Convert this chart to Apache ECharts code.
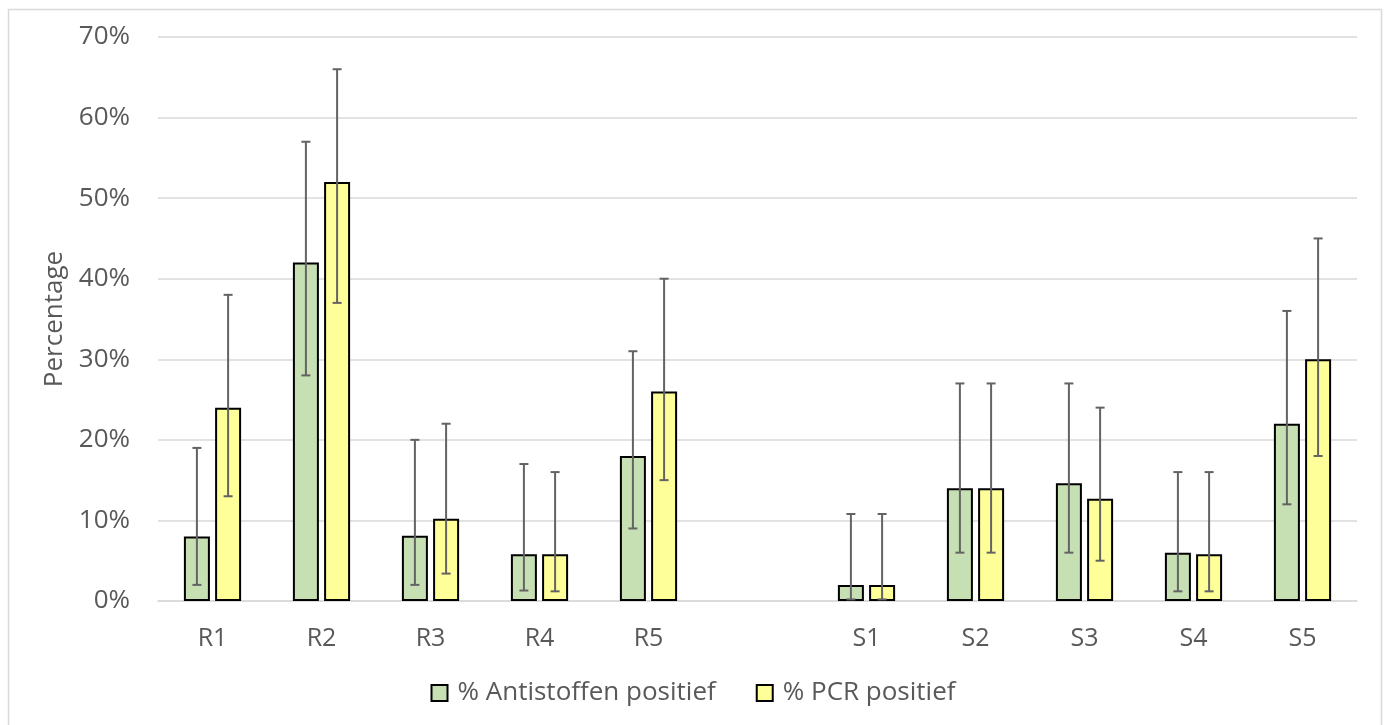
<!DOCTYPE html>
<html>
<head>
<meta charset="utf-8">
<script src="https://cdn.jsdelivr.net/npm/echarts@6/dist/echarts.min.js"></script>
<style>
html,body{margin:0;padding:0;background:#fff;}
#chart{width:1386px;height:725px;}
</style>
</head>
<body>
<div id="chart"></div>
<script>
var categories = ['R1','R2','R3','R4','R5','','S1','S2','S3','S4','S5'];
var antistoffen   = [8, 42, 8.1, 5.8, 18, null, 2, 14, 14.6, 6, 22];
var antistoffenLo = [2, 28, 2, 1.3, 9, null, 0.2, 6, 6, 1.2, 12];
var antistoffenHi = [19, 57, 20, 17, 31, null, 10.8, 27, 27, 16, 36];
var pcr   = [24, 52, 10.2, 5.8, 26, null, 2, 14, 12.7, 5.8, 30];
var pcrLo = [13, 37, 3.4, 1.2, 15, null, 0.2, 6, 5, 1.2, 18];
var pcrHi = [38, 66, 22, 16, 40, null, 10.8, 27, 24, 16, 45];
var yTicks = [0, 10, 20, 30, 40, 50, 60, 70];

var BAR_W = 26, GAP = 0.2;
var half = (2 * BAR_W + BAR_W * GAP) / 2;
var off0 = -half + BAR_W / 2, off1 = half - BAR_W / 2;
var FONT = 'Open Sans';
var TXT = '#595959';

function errData(lo, hi) {
  var d = [];
  for (var i = 0; i < categories.length; i++) {
    if (lo[i] != null) d.push([i, lo[i], hi[i]]);
  }
  return d;
}
function errSeries(name, lo, hi, offset) {
  return {
    type: 'custom',
    name: name + ' err',
    z: 10,
    silent: true,
    encode: {x: 0, y: [1, 2]},
    data: errData(lo, hi),
    renderItem: function (params, api) {
      var i = api.value(0);
      var p1 = api.coord([i, api.value(1)]);
      var p2 = api.coord([i, api.value(2)]);
      var x = p1[0] + offset;
      var st = {stroke: '#636363', lineWidth: 2};
      var c = 4.5;
      return {
        type: 'group',
        children: [
          {type: 'line', shape: {x1: x, y1: p1[1], x2: x, y2: p2[1]}, style: st},
          {type: 'line', shape: {x1: x - c, y1: p1[1], x2: x + c, y2: p1[1]}, style: st},
          {type: 'line', shape: {x1: x - c, y1: p2[1], x2: x + c, y2: p2[1]}, style: st}
        ]
      };
    }
  };
}

var chart = echarts.init(document.getElementById('chart'));
chart.setOption({
  animation: false,
  backgroundColor: '#fff',
  graphic: [{
    type: 'rect', silent: true, z: -10,
    shape: {x: 8.5, y: 9.5, width: 1373, height: 740},
    style: {fill: 'none', stroke: '#d9d9d9', lineWidth: 1.5}
  }],
  grid: {left: 158, right: 29, top: 37, bottom: 124, containLabel: false},
  legend: {
    data: ['% Antistoffen positief', '% PCR positief'],
    bottom: 14,
    left: 'center',
    icon: 'rect',
    itemWidth: 16,
    itemHeight: 16,
    itemGap: 40,
    textStyle: {fontFamily: FONT, fontSize: 26, color: TXT, padding: [0, 0, 0, 5]}
  },
  xAxis: {
    type: 'category',
    data: categories,
    axisLine: {lineStyle: {color: '#d9d9d9', width: 1.5}},
    axisTick: {show: false},
    axisLabel: {fontFamily: FONT, fontSize: 25, color: TXT, margin: 25, interval: 0}
  },
  yAxis: {
    type: 'value',
    min: 0, max: 70, interval: 10,
    name: 'Percentage',
    nameLocation: 'middle',
    nameGap: 90,
    nameTextStyle: {fontFamily: FONT, fontSize: 26, color: TXT},
    axisLine: {show: false},
    axisTick: {show: false},
    splitLine: {lineStyle: {color: '#d9d9d9', width: 1.5}},
    axisLabel: {
      fontFamily: FONT, fontSize: 26, color: TXT, margin: 28,
      formatter: function (v) { return yTicks.indexOf(v) >= 0 ? v + '%' : ''; }
    }
  },
  series: [
    {
      name: '% Antistoffen positief', type: 'bar', data: antistoffen,
      barWidth: BAR_W, barGap: (GAP * 100) + '%',
      itemStyle: {color: '#C6E0B4', borderColor: '#000', borderWidth: 2}
    },
    {
      name: '% PCR positief', type: 'bar', data: pcr,
      barWidth: BAR_W, barGap: (GAP * 100) + '%',
      itemStyle: {color: '#FFFF99', borderColor: '#000', borderWidth: 2}
    },
    errSeries('a', antistoffenLo, antistoffenHi, off0),
    errSeries('p', pcrLo, pcrHi, off1)
  ]
});
</script>
</body>
</html>
